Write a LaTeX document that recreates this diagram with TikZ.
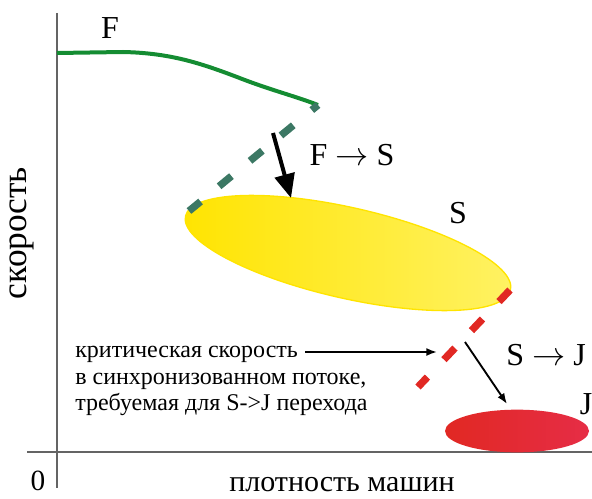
\documentclass[tikz,border=0pt]{standalone}
\usepackage{fontspec}
\setmainfont{LiberationSerif}[Extension=.ttf, UprightFont=*-Regular, BoldFont=*-Bold]
\usetikzlibrary{shapes.geometric,arrows.meta}

\definecolor{fgreen}{RGB}{20,140,50}
\definecolor{fteal}{RGB}{60,120,100}
\definecolor{sred}{RGB}{225,40,35}
\definecolor{jred}{RGB}{230,45,70}
\definecolor{syell}{RGB}{255,228,0}
\definecolor{syell2}{RGB}{255,242,100}
\definecolor{axgray}{RGB}{100,100,100}

\begin{document}
\begin{tikzpicture}[x=0.75pt, y=-0.75pt,
    axisline/.style = {draw=axgray, line width=1.5pt},
    biglbl/.style = {font=\fontsize{24}{28}\selectfont, inner sep=0pt},
    axlbl/.style = {font=\fontsize{22.5}{26}\selectfont, inner sep=0pt},
    notetext/.style = {font=\fontsize{18}{20}\selectfont, align=left, inner sep=0pt, anchor=west},
    transdash/.style = {line width=5.5pt, dash pattern=on 12pt off 18pt},
    bigarrow/.style = {-{Triangle[length=18pt,width=15pt]}, line width=3pt},
    thinarrow/.style = {-{Latex[length=8pt,width=6pt]}, line width=1.4pt}]
    \useasboundingbox (0,0) rectangle (592,499);
    % axes
    \coordinate (ytop) at (57,13);
    \coordinate (ybot) at (57,488);
    \coordinate (xleft) at (27,452);
    \coordinate (xright) at (592,452);
    \draw[axisline] (ytop) -- (ybot);
    \draw[axisline] (xleft) -- (xright);
    \node[axlbl, font=\fontsize{22}{26}\selectfont] (zero) at (38,481) {0};
    \node[axlbl, rotate=90, font=\fontsize{26.5}{30}\selectfont] (vel) at (22,233) {скорость};
    \node[axlbl] (dens) at (342,485) {плотность машин};
    % phases
    \node[ellipse, minimum width=250pt, minimum height=68pt, rotate=-12.8,
          draw=syell, line width=1pt,
          left color=syell, right color=syell2] (S) at (348,253) {};
    \node[ellipse, minimum width=108pt, minimum height=32pt, draw=none,
          left color=sred, right color=jred] (J) at (517,431) {};
    \coordinate (f0) at (57,53);
    \coordinate (f1) at (318,105);
    \draw[fgreen, line width=3pt] (f0) -- (123,52) .. controls (170,53) and (200,63) .. (237,77)
        .. controls (270,90) and (295,96) .. (f1);
    \coordinate (s0) at (189,211);
    \draw[fteal, transdash, dash phase=6pt] (f1) -- (s0);
    \coordinate (s1) at (510,290);
    \coordinate (j0) at (418,387);
    \draw[sred, transdash] (s1) -- (j0);
    % labels
    \node[biglbl] (lF) at (110,28) {F};
    \node[biglbl] (lFS) at (352,155) {F $\rightarrow$ S};
    \node[biglbl] (lS) at (458,213) {S};
    \node[biglbl] (lSJ) at (546,355) {S $\rightarrow$ J};
    \node[biglbl] (lJ) at (586,404) {J};
    % arrows
    \coordinate (a0) at (273,133);
    \coordinate (a1) at (291,198);
    \draw[bigarrow] (a0) -- (a1);
    \coordinate (b0) at (465,342);
    \coordinate (b1) at (507,404);
    \draw[thinarrow] (b0) -- (b1);
    % note
    \node[notetext] (note) at (75,381) {критическая скорость\\в синхронизованном потоке,\\требуемая для S->J перехода};
    \coordinate (n0) at (305,352);
    \coordinate (n1) at (437,352);
    \draw[thinarrow] (n0) -- (n1);
\end{tikzpicture}
\end{document}
